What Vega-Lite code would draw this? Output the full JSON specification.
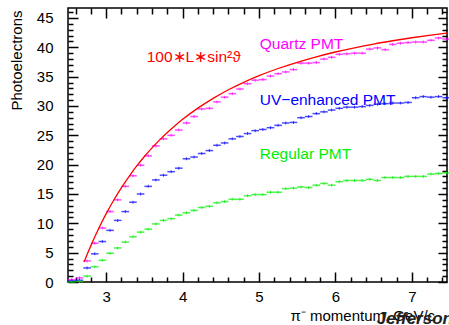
{
  "$schema": "https://vega.github.io/schema/vega-lite/v6.json",
  "width": 379,
  "height": 274,
  "autosize": "none",
  "padding": {"left": 68, "top": 8, "right": 2, "bottom": 43},
  "background": "white",
  "config": {
    "view": {"stroke": "black", "strokeWidth": 1.5},
    "font": "Liberation Sans",
    "axis": {"grid": false, "domain": false, "tickColor": "black", "tickWidth": 1.5, "labelColor": "black", "titleColor": "black", "labelFont": "Liberation Sans", "titleFont": "Liberation Sans", "titleFontWeight": "normal"}
  },
  "datasets": {
    "bins": [
      {"p":2.55,"s":"Quartz","v":0.4},{"p":2.65,"s":"Quartz","v":0.7},{"p":2.75,"s":"Quartz","v":3.6},{"p":2.85,"s":"Quartz","v":6.6},{"p":2.95,"s":"Quartz","v":9.2},
      {"p":3.05,"s":"Quartz","v":12.0},{"p":3.15,"s":"Quartz","v":14.0},{"p":3.25,"s":"Quartz","v":16.3},{"p":3.35,"s":"Quartz","v":18.1},{"p":3.45,"s":"Quartz","v":19.9},
      {"p":3.55,"s":"Quartz","v":21.5},{"p":3.65,"s":"Quartz","v":23.2},{"p":3.75,"s":"Quartz","v":24.4},{"p":3.85,"s":"Quartz","v":25.0},{"p":3.95,"s":"Quartz","v":25.9},
      {"p":4.05,"s":"Quartz","v":27.1},{"p":4.15,"s":"Quartz","v":28.2},{"p":4.25,"s":"Quartz","v":29.5},{"p":4.35,"s":"Quartz","v":29.6},{"p":4.45,"s":"Quartz","v":30.7},
      {"p":4.55,"s":"Quartz","v":31.5},{"p":4.65,"s":"Quartz","v":32.1},{"p":4.75,"s":"Quartz","v":32.9},{"p":4.85,"s":"Quartz","v":33.8},{"p":4.95,"s":"Quartz","v":34.4},
      {"p":5.05,"s":"Quartz","v":34.5},{"p":5.15,"s":"Quartz","v":35.1},{"p":5.25,"s":"Quartz","v":35.5},{"p":5.35,"s":"Quartz","v":35.8},{"p":5.45,"s":"Quartz","v":36.2},
      {"p":5.55,"s":"Quartz","v":37.3},{"p":5.65,"s":"Quartz","v":37.3},{"p":5.75,"s":"Quartz","v":37.4},{"p":5.85,"s":"Quartz","v":38.0},{"p":5.95,"s":"Quartz","v":38.3},
      {"p":6.05,"s":"Quartz","v":38.8},{"p":6.15,"s":"Quartz","v":38.9},{"p":6.25,"s":"Quartz","v":39.0},{"p":6.35,"s":"Quartz","v":39.0},{"p":6.45,"s":"Quartz","v":39.7},
      {"p":6.55,"s":"Quartz","v":39.9},{"p":6.65,"s":"Quartz","v":39.6},{"p":6.75,"s":"Quartz","v":40.5},{"p":6.85,"s":"Quartz","v":40.7},{"p":6.95,"s":"Quartz","v":40.8},
      {"p":7.05,"s":"Quartz","v":40.9},{"p":7.15,"s":"Quartz","v":40.9},{"p":7.25,"s":"Quartz","v":41.2},{"p":7.35,"s":"Quartz","v":41.6},{"p":7.45,"s":"Quartz","v":41.4},
      {"p":2.55,"s":"UV","v":0.2},{"p":2.65,"s":"UV","v":0.3},{"p":2.75,"s":"UV","v":2.4},{"p":2.85,"s":"UV","v":4.8},{"p":2.95,"s":"UV","v":6.9},
      {"p":3.05,"s":"UV","v":8.8},{"p":3.15,"s":"UV","v":10.5},{"p":3.25,"s":"UV","v":12.0},{"p":3.35,"s":"UV","v":13.6},{"p":3.45,"s":"UV","v":15.0},
      {"p":3.55,"s":"UV","v":16.3},{"p":3.65,"s":"UV","v":17.4},{"p":3.75,"s":"UV","v":18.2},{"p":3.85,"s":"UV","v":18.8},{"p":3.95,"s":"UV","v":19.4},
      {"p":4.05,"s":"UV","v":21.0},{"p":4.15,"s":"UV","v":21.3},{"p":4.25,"s":"UV","v":21.9},{"p":4.35,"s":"UV","v":22.4},{"p":4.45,"s":"UV","v":23.3},
      {"p":4.55,"s":"UV","v":23.7},{"p":4.65,"s":"UV","v":24.4},{"p":4.75,"s":"UV","v":24.8},{"p":4.85,"s":"UV","v":25.3},{"p":4.95,"s":"UV","v":25.8},
      {"p":5.05,"s":"UV","v":26.0},{"p":5.15,"s":"UV","v":26.3},{"p":5.25,"s":"UV","v":26.7},{"p":5.35,"s":"UV","v":27.1},{"p":5.45,"s":"UV","v":27.2},
      {"p":5.55,"s":"UV","v":28.0},{"p":5.65,"s":"UV","v":28.2},{"p":5.75,"s":"UV","v":28.7},{"p":5.85,"s":"UV","v":29.0},{"p":5.95,"s":"UV","v":29.3},
      {"p":6.05,"s":"UV","v":29.6},{"p":6.15,"s":"UV","v":29.8},{"p":6.25,"s":"UV","v":29.8},{"p":6.35,"s":"UV","v":29.9},{"p":6.45,"s":"UV","v":30.1},
      {"p":6.55,"s":"UV","v":30.3},{"p":6.65,"s":"UV","v":30.4},{"p":6.75,"s":"UV","v":30.5},{"p":6.85,"s":"UV","v":30.5},{"p":6.95,"s":"UV","v":30.6},
      {"p":7.05,"s":"UV","v":31.4},{"p":7.15,"s":"UV","v":31.6},{"p":7.25,"s":"UV","v":31.5},{"p":7.35,"s":"UV","v":31.6},{"p":7.45,"s":"UV","v":31.4},
      {"p":2.55,"s":"Regular","v":0.0},{"p":2.65,"s":"Regular","v":0.1},{"p":2.75,"s":"Regular","v":1.0},{"p":2.85,"s":"Regular","v":2.6},{"p":2.95,"s":"Regular","v":3.7},
      {"p":3.05,"s":"Regular","v":4.9},{"p":3.15,"s":"Regular","v":5.8},{"p":3.25,"s":"Regular","v":6.8},{"p":3.35,"s":"Regular","v":7.7},{"p":3.45,"s":"Regular","v":8.5},
      {"p":3.55,"s":"Regular","v":9.0},{"p":3.65,"s":"Regular","v":9.9},{"p":3.75,"s":"Regular","v":10.5},{"p":3.85,"s":"Regular","v":10.8},{"p":3.95,"s":"Regular","v":11.4},
      {"p":4.05,"s":"Regular","v":11.8},{"p":4.15,"s":"Regular","v":12.2},{"p":4.25,"s":"Regular","v":12.7},{"p":4.35,"s":"Regular","v":12.9},{"p":4.45,"s":"Regular","v":13.5},
      {"p":4.55,"s":"Regular","v":13.7},{"p":4.65,"s":"Regular","v":14.1},{"p":4.75,"s":"Regular","v":14.1},{"p":4.85,"s":"Regular","v":14.7},{"p":4.95,"s":"Regular","v":14.9},
      {"p":5.05,"s":"Regular","v":14.9},{"p":5.15,"s":"Regular","v":15.3},{"p":5.25,"s":"Regular","v":15.3},{"p":5.35,"s":"Regular","v":15.9},{"p":5.45,"s":"Regular","v":16.0},
      {"p":5.55,"s":"Regular","v":16.2},{"p":5.65,"s":"Regular","v":16.1},{"p":5.75,"s":"Regular","v":16.5},{"p":5.85,"s":"Regular","v":16.8},{"p":5.95,"s":"Regular","v":16.5},
      {"p":6.05,"s":"Regular","v":17.1},{"p":6.15,"s":"Regular","v":17.3},{"p":6.25,"s":"Regular","v":17.3},{"p":6.35,"s":"Regular","v":17.3},{"p":6.45,"s":"Regular","v":17.5},
      {"p":6.55,"s":"Regular","v":17.3},{"p":6.65,"s":"Regular","v":17.8},{"p":6.75,"s":"Regular","v":17.8},{"p":6.85,"s":"Regular","v":17.8},{"p":6.95,"s":"Regular","v":18.0},
      {"p":7.05,"s":"Regular","v":18.0},{"p":7.15,"s":"Regular","v":18.0},{"p":7.25,"s":"Regular","v":18.4},{"p":7.35,"s":"Regular","v":18.5},{"p":7.45,"s":"Regular","v":18.6}
    ],
    "curve": [
      {"p":2.71,"s":"Curve","v":3.4},{"p":2.75,"s":"Curve","v":4.67},{"p":2.8,"s":"Curve","v":6.2},{"p":2.9,"s":"Curve","v":9.07},{"p":3.0,"s":"Curve","v":11.65},
      {"p":3.1,"s":"Curve","v":13.98},{"p":3.2,"s":"Curve","v":16.09},{"p":3.3,"s":"Curve","v":18.02},{"p":3.4,"s":"Curve","v":19.78},{"p":3.5,"s":"Curve","v":21.39},
      {"p":3.6,"s":"Curve","v":22.87},{"p":3.7,"s":"Curve","v":24.23},{"p":3.8,"s":"Curve","v":25.49},{"p":3.9,"s":"Curve","v":26.64},{"p":4.0,"s":"Curve","v":27.72},
      {"p":4.2,"s":"Curve","v":29.64},{"p":4.4,"s":"Curve","v":31.3},{"p":4.6,"s":"Curve","v":32.76},{"p":4.8,"s":"Curve","v":34.03},{"p":5.0,"s":"Curve","v":35.16},
      {"p":5.25,"s":"Curve","v":36.39},{"p":5.5,"s":"Curve","v":37.45},{"p":5.75,"s":"Curve","v":38.38},{"p":6.0,"s":"Curve","v":39.2},{"p":6.25,"s":"Curve","v":39.92},
      {"p":6.5,"s":"Curve","v":40.56},{"p":6.75,"s":"Curve","v":41.12},{"p":7.0,"s":"Curve","v":41.63},{"p":7.25,"s":"Curve","v":42.09},{"p":7.46,"s":"Curve","v":42.44}
    ],
    "labels": [
      {"p":3.53,"v":38.4,"s":"Curve","t":"100∗L∗sin²ϑ"},
      {"p":5.01,"v":40.6,"s":"Quartz","t":"Quartz PMT"},
      {"p":5.01,"v":31.05,"s":"UV","t":"UV−enhanced PMT"},
      {"p":5.01,"v":21.86,"s":"Regular","t":"Regular PMT"}
    ]
  },
  "layer": [
    {
      "data": {"name": "bins"},
      "mark": {"type": "tick", "orient": "horizontal", "size": 7.6, "thickness": 1.5},
      "encoding": {
        "x": {"field": "p", "type": "quantitative", "scale": {"domain": [2.5, 7.46], "nice": false, "zero": false},
          "axis": {"orient": "bottom", "values": [3, 4, 5, 6, 7], "tickSize": -10, "labelPadding": 17, "labelFontSize": 15, "title": "π⁻ momentum, GeV/c", "titleFontSize": 15, "titleX": 222, "titleY": 38, "titleAlign": "left", "titleBaseline": "alphabetic", "titleAnchor": "start"}},
        "y": {"field": "v", "type": "quantitative", "scale": {"domain": [0, 46.7], "nice": false},
          "axis": {"orient": "left", "values": [0, 5, 10, 15, 20, 25, 30, 35, 40, 45], "tickSize": -10, "labelPadding": 25, "labelFontSize": 15, "title": "Photoelectrons", "titleFontSize": 15, "titleAngle": -90, "titleX": -47, "titleY": 2, "titleAlign": "right", "titleBaseline": "alphabetic"}},
        "color": {"field": "s", "type": "nominal", "legend": null,
          "scale": {"domain": ["Quartz", "UV", "Regular", "Curve"], "range": ["#ff00ff", "#0000ff", "#00ee00", "#ff0000"]}}
      }
    },
    {
      "data": {"name": "bins"},
      "mark": {"type": "tick", "orient": "vertical", "size": 3, "thickness": 1},
      "encoding": {
        "x": {"field": "p", "type": "quantitative",
          "axis": {"orient": "bottom", "values": [2.6, 2.8, 3.2, 3.4, 3.6, 3.8, 4.2, 4.4, 4.6, 4.8, 5.2, 5.4, 5.6, 5.8, 6.2, 6.4, 6.6, 6.8, 7.2, 7.4], "tickSize": -5, "labels": false, "title": null}},
        "y": {"field": "v", "type": "quantitative",
          "axis": {"orient": "left", "values": [1, 2, 3, 4, 6, 7, 8, 9, 11, 12, 13, 14, 16, 17, 18, 19, 21, 22, 23, 24, 26, 27, 28, 29, 31, 32, 33, 34, 36, 37, 38, 39, 41, 42, 43, 44, 46], "tickSize": -5, "labels": false, "title": null}},
        "color": {"field": "s", "type": "nominal", "legend": null}
      }
    },
    {
      "data": {"name": "curve"},
      "mark": {"type": "line", "strokeWidth": 1.3, "interpolate": "monotone"},
      "encoding": {
        "x": {"field": "p", "type": "quantitative",
          "axis": {"orient": "top", "values": [3, 4, 5, 6, 7], "tickSize": -10, "labels": false, "title": null}},
        "y": {"field": "v", "type": "quantitative",
          "axis": {"orient": "right", "values": [0, 5, 10, 15, 20, 25, 30, 35, 40, 45], "tickSize": -9, "labels": false, "title": null}},
        "color": {"field": "s", "type": "nominal", "legend": null}
      }
    },
    {
      "data": {"name": "labels"},
      "mark": {"type": "text", "align": "left", "baseline": "middle", "fontSize": 15.5, "font": "Liberation Sans"},
      "encoding": {
        "x": {"field": "p", "type": "quantitative",
          "axis": {"orient": "top", "values": [2.6, 2.8, 3.2, 3.4, 3.6, 3.8, 4.2, 4.4, 4.6, 4.8, 5.2, 5.4, 5.6, 5.8, 6.2, 6.4, 6.6, 6.8, 7.2, 7.4], "tickSize": -6, "labels": false, "title": null}},
        "y": {"field": "v", "type": "quantitative",
          "axis": {"orient": "right", "values": [1, 2, 3, 4, 6, 7, 8, 9, 11, 12, 13, 14, 16, 17, 18, 19, 21, 22, 23, 24, 26, 27, 28, 29, 31, 32, 33, 34, 36, 37, 38, 39, 41, 42, 43, 44, 46], "tickSize": -5, "labels": false, "title": null}},
        "text": {"field": "t"},
        "color": {"field": "s", "type": "nominal", "legend": null}
      }
    },
    {
      "data": {"values": [{"p": 6.54, "v": -6.3, "t": "Jefferson"}]},
      "mark": {"type": "text", "align": "left", "baseline": "middle", "fontSize": 17, "fontWeight": "bold", "fontStyle": "italic", "font": "Liberation Sans", "color": "#222222"},
      "encoding": {
        "x": {"field": "p", "type": "quantitative", "axis": null},
        "y": {"field": "v", "type": "quantitative", "axis": null},
        "text": {"field": "t"}
      }
    }
  ],
  "resolve": {"axis": {"x": "independent", "y": "independent"}}
}
